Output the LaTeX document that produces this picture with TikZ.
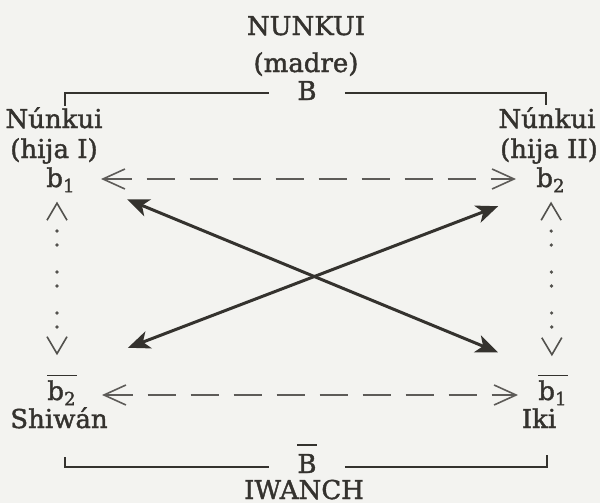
\documentclass[tikz,border=0pt]{standalone}
\usepackage{fontspec}
\setmainfont{DejaVu Serif}[BoldFont=DejaVu Serif, BoldFeatures={FakeBold=1.5}]
\usetikzlibrary{arrows.meta,calc}
\definecolor{ink}{RGB}{52,50,46}
\definecolor{paper}{RGB}{243,243,240}
\newcommand{\obar}[2]{\vbox{\hrule height 0.8pt\kern#1\hbox{#2}}}
\tikzset{
  lbl/.style={text=ink, font=\fontsize{13}{15}\selectfont\bfseries, inner sep=1pt, anchor=base},
  bracket/.style={draw=ink, line width=0.8pt},
  dasharr/.style={{Straight Barb[length=11pt,width=10pt]}-{Straight Barb[length=11pt,width=10pt]},
    draw=ink!80, line width=0.8pt, dash pattern=on 14pt off 7.5pt},
  dotarr/.style={{Straight Barb[length=8.5pt,width=10pt,line width=0.8pt]}-{Straight Barb[length=8.5pt,width=10pt,line width=0.8pt]},
    draw=ink!85, line width=1.8pt, line cap=round,
    dash pattern=on 0pt off 7pt on 0pt off 13.5pt on 0pt off 7pt on 0pt off 13.5pt on 0pt off 7pt on 0pt off 40pt,
    dash phase=74.5pt},
  xarr/.style={{Stealth[length=11pt,width=9pt,inset=3pt]}-{Stealth[length=11pt,width=9pt,inset=3pt]},
    draw=ink, line width=1.5pt}
}
\begin{document}
\begin{tikzpicture}[x=0.5pt,y=-0.5pt]
\fill[paper] (0,0) rectangle (600,503);
\useasboundingbox (0,0) rectangle (600,503);

\node[lbl] (mother) at (306,35) {NUNKUI};
\node[lbl] (madre) at (306,72) {(madre)};
\node[lbl, inner xsep=14pt] (B) at (307,100) {B};
\node[lbl] (nl) at (54,128) {Núnkui};
\node[lbl] (hl) at (54,158) {(hija I)};
\node[lbl] (b1) at (61,187) {b\textsubscript{1}};
\node[lbl] (nr) at (547,128) {Núnkui};
\node[lbl] (hr) at (549,158) {(hija II)};
\node[lbl] (b2) at (551,187) {b\textsubscript{2}};
\node[lbl] (b2bar) at (62,400) {\obar{2pt}{b\textsubscript{2}}};
\node[lbl] (shiwan) at (59,428) {Shiwán};
\node[lbl] (b1bar) at (553,400) {\obar{2pt}{b\textsubscript{1}}};
\node[lbl] (iki) at (539,428) {Iki};
\node[lbl, inner xsep=14pt] (Bbar) at (307,473) {\obar{4pt}{B}};
\node[lbl] (iwanch) at (304,499) {IWANCH};

% brackets
\coordinate (tl) at (65,106); \coordinate (tlc) at (65,93);
\coordinate (tr) at (546,105); \coordinate (trc) at (546,93);
\draw[bracket] (tl) -- (tlc) -- (B.west |- tlc);
\draw[bracket] (B.east |- trc) -- (trc) -- (tr);
\coordinate (bl) at (65,457); \coordinate (blc) at (65,467);
\coordinate (br) at (547,455); \coordinate (brc) at (547,467);
\draw[bracket] (bl) -- (blc) -- (Bbar.west |- blc);
\draw[bracket] (Bbar.east |- brc) -- (brc) -- (br);

% dashed horizontals
\draw[dasharr, shorten <=11.5pt, shorten >=9pt] ([yshift=4pt]b1.base east) -- ([yshift=4pt]b2.base west);
\draw[dasharr, shorten <=11.5pt, shorten >=9pt] ([yshift=2.5pt]b2bar.base east) -- ([yshift=2.5pt]b1bar.base west);

% dotted verticals
\draw[dotarr, shorten <=3.5pt, shorten >=8.5pt] ([xshift=-2pt]b1.south) -- ([xshift=-2.5pt]b2bar.north);
\draw[dotarr, shorten <=3.5pt, shorten >=8pt] (b2.south) -- ([xshift=-0.5pt]b1bar.north);

% crossing arrows
\draw[xarr, shorten <=35.8pt, shorten >=29.8pt] ([yshift=7.5pt]b1.base) -- ([yshift=12.5pt]b1bar.base);
\draw[xarr, shorten <=28.3pt, shorten >=35.3pt] ([yshift=0.5pt]b2.base) -- ([yshift=13.5pt]b2bar.base);
\end{tikzpicture}
\end{document}
